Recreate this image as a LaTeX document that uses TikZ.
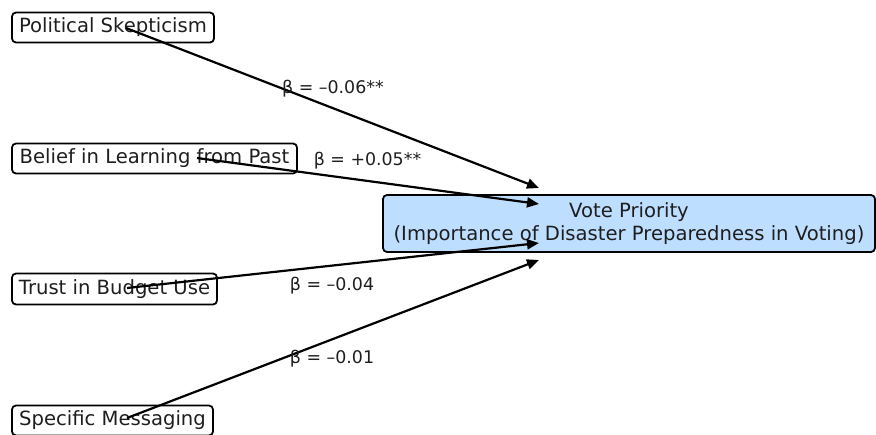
\documentclass[tikz,border=0pt]{standalone}
\usepackage{fontspec}
\setmainfont{DejaVu Sans}
\usetikzlibrary{arrows.meta}
\definecolor{txt}{RGB}{30,30,30}
\definecolor{votefill}{RGB}{190,222,255}
\begin{document}
\begin{tikzpicture}[x=1pt,y=-1pt,
  box/.style={draw=black, line width=1.8pt, rounded corners=4pt, inner sep=0pt,
    font=\fontsize{19.6}{22.3}\selectfont, text=txt},
  conn/.style={line width=2.2pt, -{Triangle[length=12pt,width=10pt]}},
  coef/.style={font=\fontsize{17.4}{20}\selectfont, text=txt, inner sep=0pt}]
\useasboundingbox (0,0) rectangle (876,434);
\clip (0,0) rectangle (876,434);
% source boxes
\node[box, minimum width=202pt, minimum height=30pt] (ps) at (113,27.5) {Political Skepticism};
\node[box, minimum width=285pt, minimum height=30pt] (bl) at (154.5,158.5) {Belief in Learning from Past};
\node[box, minimum width=205pt, minimum height=31pt] (tb) at (114.5,289) {Trust in Budget Use};
\node[box, minimum width=201pt, minimum height=30pt] (sm) at (112.5,420.5) {Specific Messaging};
% target box
\node[box, fill=votefill, minimum width=492pt, minimum height=57pt, align=center] (vp) at (629,223.5)
  {Vote Priority\\(Importance of Disaster Preparedness in Voting)};
% connector endpoints
\coordinate (ps-s) at (126,28);
\coordinate (bl-s) at (197,158);
\coordinate (tb-s) at (127,288);
\coordinate (sm-s) at (127,418);
\coordinate (vp-1) at (539,188);
\coordinate (vp-2) at (539,204);
\coordinate (vp-3) at (539,243);
\coordinate (vp-4) at (539,260);
% connectors
\draw[conn] (ps-s) -- (vp-1);
\draw[conn] (bl-s) -- (vp-2);
\draw[conn] (tb-s) -- (vp-3);
\draw[conn] (sm-s) -- (vp-4);
% coefficient labels
\node[coef] (c1) at (333,88.5) {β = –0.06**};
\node[coef] (c2) at (367.5,160.5) {β = +0.05**};
\node[coef] (c3) at (332,285.5) {β = –0.04};
\node[coef] (c4) at (332,358.5) {β = –0.01};
\end{tikzpicture}
\end{document}
